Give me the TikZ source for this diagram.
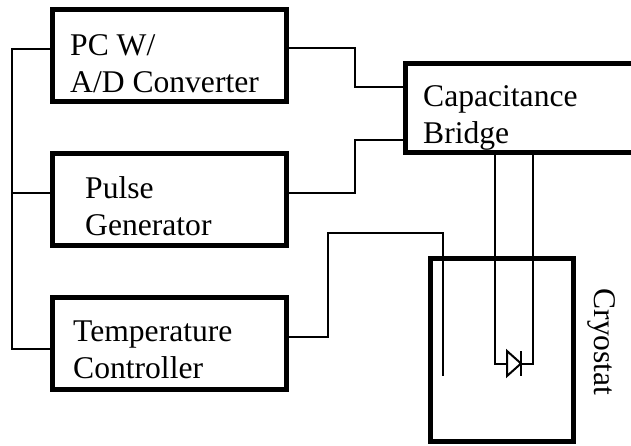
\documentclass[tikz,border=0pt]{standalone}
\usepackage{fontspec}
\setmainfont{Liberation Serif}
\usepackage{tikz}
\usetikzlibrary{positioning}

\begin{document}
\begin{tikzpicture}[x=1pt, y=-1pt,
    unit/.style={draw, line width=5pt, inner sep=0pt, minimum width=234pt, minimum height=92pt},
    wire/.style={line width=2pt},
    label/.style={anchor=base west, align=left, inner sep=0pt, font=\fontsize{31.6}{37}\selectfont}]

    \useasboundingbox (0,0) rectangle (631,445);
    \clip (0,0) rectangle (631,445);

    % Geraete
    \node (pc) at (169.5,55) [unit] {};
    \node (pulse) at (169.5,199) [unit] {};
    \node (temp) at (169.5,343.5) [unit] {};
    \node (bridge) at (527.5,107.5) [unit, minimum width=245pt, minimum height=89pt] {};
    \node (cryo) at (502,350) [unit, minimum width=143pt, minimum height=183pt] {};

    % Beschriftungen (Grundlinie der zweiten Zeile)
    \node (pcText) at (70,92) [label] {PC W/\\A/D Converter};
    \node (pulseText) at (85,235) [label] {Pulse\\Generator};
    \node (tempText) at (73,378) [label] {Temperature\\Controller};
    \node (bridgeText) at (423,143) [label] {Capacitance\\Bridge};
    \node (cryoText) at (602,342) [label, anchor=center, rotate=-90] {Cryostat};

    % Sammelleitung links
    \draw[wire] ([yshift=6pt]pc.west) -- ++(-38.5,0) |- ([yshift=-5.5pt]temp.west);
    \draw[wire] ([yshift=6pt]pulse.west) -- ++(-38.5,0);

    % Leitungen zur Bruecke
    \draw[wire] ([yshift=7pt]pc.east) -- ++(65.5,0) |- ([yshift=20.5pt]bridge.west);
    \draw[wire] ([yshift=6pt]pulse.east) -- ++(65.5,0) |- ([yshift=-32.5pt]bridge.west);

    % Fuehler im Kryostat
    \coordinate (probe) at (443,376);
    \draw[wire] ([yshift=6.5pt]temp.east) -| ++(38.5,-104) -| (probe);

    % Diode
    \coordinate (diodeL) at (495,363.5);
    \coordinate (diodeR) at (533,363.5);
    \coordinate (anode) at (507,363.5);
    \coordinate (kathode) at (521,363.5);
    \draw[wire] (bridge.south -| diodeL) -- (diodeL) -- (anode);
    \draw[wire] (bridge.south -| diodeR) -- (diodeR) -- (kathode);
    \draw[wire, line join=miter] (anode) ++(0,-12.5) -- ++(0,25) -- (kathode) -- cycle;
    \draw[wire] (kathode) ++(0,-12.5) -- ++(0,25);

\end{tikzpicture}
\end{document}
